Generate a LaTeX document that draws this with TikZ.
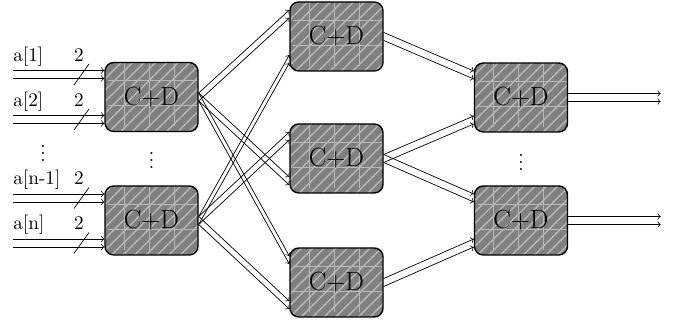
\documentclass[11pt,tikz,border=0pt]{standalone}
\usetikzlibrary{patterns.meta}
\newcommand{\bus}[2]{%
  \draw[->] ([yshift=0.08cm]#1) -- ([yshift=0.08cm]#2);
  \draw[->] ([yshift=-0.08cm]#1) -- ([yshift=-0.08cm]#2);}
\begin{document}
\begin{tikzpicture}
    \tikzset{cd/.style={draw, thick, rounded corners=5pt, minimum width=1.86cm, minimum height=1.38cm,
        font=\fontsize{15}{18}\selectfont,
        preaction={fill=gray}, pattern={Lines[angle=45,distance=4.6pt]}, pattern color=gray!55!white,
        path picture={\draw[gray!55!white, very thin] ([shift={(0.06,0.1)}]path picture bounding box.south west) grid[step=0.5cm] (path picture bounding box.north east);}},
      lab/.style={inner sep=0pt}}
    \useasboundingbox (0,0) rectangle (13.88,6.42);
    % first stage
    \node[cd] (s1) at (3.03,4.48) {C+D};
    \node[cd] (s2) at (3.03,2.01) {C+D};
    % second stage
    \node[cd] (m1) at (6.73,5.69) {C+D};
    \node[cd] (m2) at (6.73,3.25) {C+D};
    \node[cd] (m3) at (6.73,0.77) {C+D};
    % third stage
    \node[cd] (t1) at (10.42,4.47) {C+D};
    \node[cd] (t2) at (10.42,2.01) {C+D};
    \foreach \n in {s1,s2,m1,m2,m3,t1,t2} {
        \coordinate (\n-a) at ([yshift=0.45cm]\n.west);
        \coordinate (\n-b) at ([yshift=-0.45cm]\n.west);
    }
    % inputs
    \coordinate (left) at (0.26,0);
    \foreach \dst/\txt [count=\i] in {s1-a/{a[1]}, s1-b/{a[2]}, s2-a/{a[n-1]}, s2-b/{a[n]}} {
        \coordinate (in\i) at (left |- \dst);
        \node[lab, anchor=base west] (lab\i) at ([yshift=0.26cm]in\i) {\txt};
        \node[lab, anchor=base] (w\i) at ([shift={(1.32,0.26)}]in\i) {2};
        \draw ([shift={(1.22,-0.21)}]in\i) -- ([shift={(1.52,0.21)}]in\i);
        \bus{in\i}{\dst}
    }
    \node[lab] (d1) at (0.86,3.46) {$\vdots$};
    \node[lab] (d2) at (3.03,3.32) {$\vdots$};
    \node[lab] (d3) at (10.42,3.28) {$\vdots$};
    % stage 1 to stage 2
    \bus{s1.east}{m1-a}
    \bus{s2.east}{m1-b}
    \bus{s1.east}{m2-b}
    \bus{s2.east}{m2-a}
    \bus{s1.east}{m3-a}
    \bus{s2.east}{m3-b}
    % stage 2 to stage 3
    \bus{m1.east}{t1-a}
    \bus{m2.east}{t1-b}
    \bus{m2.east}{t2-a}
    \bus{m3.east}{t2-b}
    % outputs
    \coordinate (o1) at ([xshift=1.85cm]t1.east);
    \coordinate (o2) at ([xshift=1.85cm]t2.east);
    \bus{t1.east}{o1}
    \bus{t2.east}{o2}
\end{tikzpicture}
\end{document}
